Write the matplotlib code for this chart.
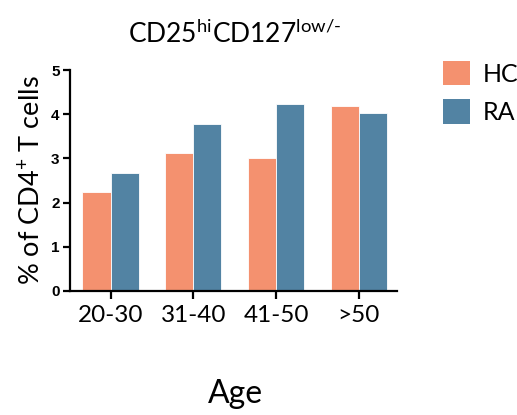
import matplotlib.pyplot as plt
import numpy as np
from matplotlib.patches import Patch

plt.rcParams['font.family'] = ['Lato', 'DejaVu Sans']
plt.rcParams['mathtext.fontset'] = 'custom'
plt.rcParams['mathtext.rm'] = 'Lato'

# data
age_groups = ["20-30", "31-40", "41-50", ">50"]
hc_values = [2.25, 3.13, 3.02, 4.18]
ra_values = [2.68, 3.77, 4.24, 4.03]

hc_color = '#F4916F'
ra_color = '#5283A3'

fig = plt.figure(figsize=(5.17, 4.15), dpi=100)
ax = fig.add_axes([0.1354, 0.2988, 0.632, 0.5325])

x = np.arange(len(age_groups))
w = 0.34
ax.bar(x - w / 2, hc_values, w, color=hc_color, edgecolor='white', linewidth=0.6, label='HC')
ax.bar(x + w / 2, ra_values, w, color=ra_color, edgecolor='white', linewidth=0.6, label='RA')

ax.set_xlim(-0.49, 3.46)
ax.set_ylim(0, 5)
ax.set_xticks(x)
ax.set_xticklabels(age_groups, fontsize=17.5)
ax.set_yticks([0, 1, 2, 3, 4, 5])
ax.set_yticklabels(['0', '1', '2', '3', '4', '5'], fontsize=11, fontweight='bold',
                   family=['Liberation Sans'])

for side in ['top', 'right']:
    ax.spines[side].set_visible(False)
for side in ['left', 'bottom']:
    ax.spines[side].set_linewidth(1.6)
ax.tick_params(axis='x', length=6, width=1.6, pad=4)
ax.tick_params(axis='y', length=5, width=1.6, pad=2.5)

ax.set_ylabel('% of CD4$^{+}$ T cells', fontsize=19.5)
ax.yaxis.set_label_coords(-0.12, 0.5)
ax.set_xlabel('Age', fontsize=23)
ax.xaxis.set_label_coords(0.505, -0.466)
ax.xaxis.label.set_va('center')
ax.yaxis.label.set_va('center')

ax.text(0.505, 1.165, 'CD25$^{\\mathregular{hi}}$CD127$^{\\mathregular{low/}\\text{-}}$',
        fontsize=19, ha='center', va='center', transform=ax.transAxes)

handles = [Patch(facecolor=hc_color, label='HC'), Patch(facecolor=ra_color, label='RA')]
fig.legend(handles=handles, loc='upper left', bbox_to_anchor=(443 / 517, 1 - 61 / 415),
           frameon=False, borderpad=0, borderaxespad=0,
           fontsize=18, handlelength=1.08, handleheight=1.12, labelspacing=0.55,
           handletextpad=0.5)

fig.savefig('out.png', dpi=100)
